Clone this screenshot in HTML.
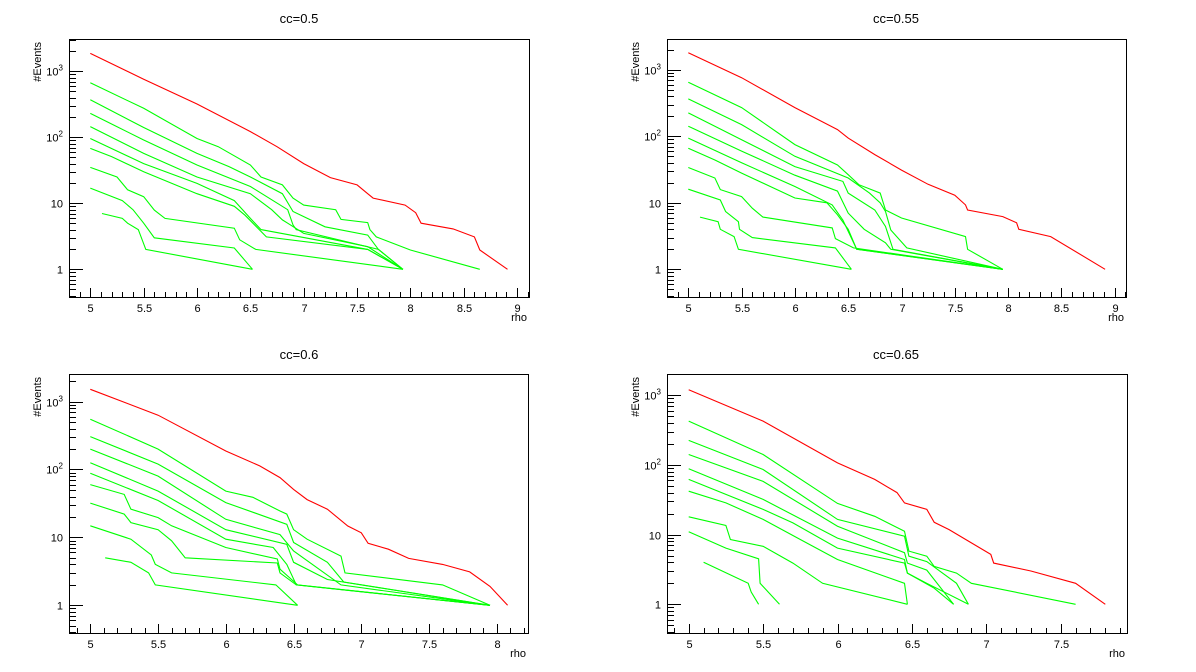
<!DOCTYPE html>
<html><head><meta charset="utf-8"><style>
html,body{margin:0;padding:0;background:#fff;}
svg{display:block;font-family:"Liberation Sans",Arial,sans-serif;}
</style></head><body>
<svg id="cv" width="1196" height="672" viewBox="0 0 1196 672"></svg>
<script>
// ---- data (rho, #events) ----
const p1RedX=[5,5.5,6,6.5,6.75,7,7.25,7.5,7.6,7.65,7.95,8.05,8.1,8.4,8.6,8.65,8.91];
const p1RedY=[1870,760,320,122,72,40,24.5,19,14,12,9.4,7.2,5,4.1,3.1,1.96,1];
const p1GreenX=[
[5,5.5,6,6.2,6.5,6.6,6.8,6.9,7.0,7.3,7.35,7.6,7.62,7.68,8,8.65],
[5,5.5,6,6.3,6.5,6.8,6.9,7.2,7.6,7.7,7.93],
[5,5.5,6,6.5,6.85,6.9,6.93,7.7,7.93],
[5,5.5,6,6.5,6.7,6.8,6.85,7.0,7.6,7.93],
[5,5.5,6,6.35,6.5,6.6,7.6,7.93],
[5,5.2,5.5,6,6.35,6.45,6.65,7.6,7.93],
[5,5.25,5.35,5.5,5.6,5.7,6.35,6.4,6.55,7.93],
[5,5.3,5.4,5.5,5.6,6.35,6.52],
[5.11,5.3,5.35,5.45,5.52,6.52]];
const p1GreenY=[
[670,275,96,72,38,25,19,12,9.4,8,5.7,5.1,4,3.1,1.96,1],
[370,141,57,36,25,14,7.5,4.4,3.3,2,1],
[230,91,38,18,8,4.7,4,2,1],
[145,57,25,14,8,5.6,5,3.5,2.2,1],
[96,40,20,11,5.9,4,2.0,1],
[68,51,30,14,9,6.6,3.1,2,1],
[35,25,16,12.6,7.9,5.9,4.2,2.8,2,1],
[17,11,8,5,3,2.1,1],
[7,5.9,5,4,2,1]];

const p2RedX=[5,5.5,6,6.4,6.5,6.75,7,7.25,7.5,7.6,7.62,7.95,8.08,8.1,8.4,8.91];
const p2RedY=[1800,760,270,126,94,53,31,19,13,9.3,7.8,6.2,5,4,3.1,1];
const p2GreenX=[
[5,5.5,6,6.4,6.5,6.6,6.8,6.85,7.0,7.6,7.62,7.95],
[5,5.5,6,6.5,6.7,6.8,6.85,6.9,7.05,7.95],
[5,5.5,6,6.45,6.5,6.75,6.85,6.92,7.95],
[5,5.5,6,6.4,6.5,6.65,6.85,6.9,7.95],
[5,5.5,6,6.35,6.45,6.58,7.95],
[5,5.25,5.5,6,6.3,6.4,6.5,6.58,7.95],
[5,5.25,5.3,5.5,5.6,5.7,6.35,6.38,6.55,7.95],
[5,5.3,5.35,5.47,5.48,5.6,6.38,6.53],
[5.11,5.28,5.3,5.43,5.47,6.53]];
const p2GreenY=[
[650,270,75,37,26.5,18.7,14,7.8,5.9,3.1,2,1],
[365,150,50,23.6,14,10,7.4,3.9,2.1,1],
[225,89,35,21,14,7.8,4.4,2,1],
[142,60,26,15,7,4,2.5,2,1],
[94,40,17.6,9.3,5.5,2,1],
[66,44,28,11.8,10,6.6,4,2,1],
[34,23.6,15.8,12.4,8.3,6.1,4.2,2.9,2.1,1],
[16,11,7.4,5.2,4,3,2.1,1],
[6.1,5.2,4,3.1,2,1]];

const p3RedX=[5,5.5,6,6.25,6.4,6.5,6.6,6.75,6.9,7.0,7.05,7.2,7.35,7.6,7.8,7.95,8.08];
const p3RedY=[1520,630,187,113,76,51,36,26,14.7,11.7,8.2,6.7,4.9,4,3.1,1.9,1];
const p3GreenX=[
[5,5.5,6,6.2,6.4,6.45,6.5,6.6,6.85,6.88,7.6,7.95],
[5,5.5,6,6.45,6.5,6.75,6.87,7.95],
[5,5.5,6,6.4,6.5,6.85,7.95],
[5,5.5,6,6.45,6.5,6.75,7.95],
[5,5.5,6,6.35,6.45,6.52,7.95],
[5,5.25,5.3,5.5,5.6,6,6.38,6.4,6.53,7.95],
[5,5.25,5.3,5.5,5.6,5.7,6.38,6.4,6.52,7.95],
[5,5.3,5.45,5.48,5.6,6.37,6.53],
[5.11,5.3,5.43,5.48,6.53]];
const p3GreenY=[
[550,200,48,39,24.5,22,13,9.4,5.3,3,2,1],
[305,120,32.6,15.6,8.4,4.3,2.2,1],
[200,80,18.5,11,6.3,2,1],
[126,48,13,7.9,4.3,2.4,1],
[88,35,9.4,7.1,4,2,1],
[60,43,26,19.6,14.8,7.1,4.8,3.4,2,1],
[32,22,16.5,13,8.9,5,4.2,3,2,1],
[14.8,9.4,5.5,4,3,2,1],
[5,4.3,3,2,1]];

const p4RedX=[5,5.5,6,6.25,6.4,6.45,6.6,6.65,6.75,6.9,7.03,7.05,7.3,7.6,7.8];
const p4RedY=[1200,425,107,62,40,28.5,23,15,11.8,7.6,5.2,3.9,3,2,1];
const p4GreenX=[
[5,5.5,6,6.25,6.45,6.48,6.6,6.65,6.8,6.9,7.6],
[5,5.5,6,6.45,6.48,6.6,6.8,6.88],
[5,5.5,6,6.45,6.47,6.6,6.78],
[5,5.5,6,6.45,6.47,6.65,6.78],
[5,5.5,5.7,6,6.45,6.47,6.6,6.88],
[5,5.25,5.5,5.75,6,6.45,6.47],
[5,5.25,5.28,5.5,5.7,5.9,6.47],
[5,5.25,5.47,5.48,5.61],
[5.1,5.4,5.42,5.47]];
const p4GreenY=[
[425,141,28,18.3,11.2,5.8,4.9,3.5,2.8,2,1],
[225,86,16.5,9.5,4.9,4.1,2,1],
[141,58,13.2,5.5,3.9,3.1,1],
[88,32,8.9,4.4,2.8,1.7,1],
[62,23,14.7,6.4,3.9,2.8,2,1],
[42,28.5,16.5,8.5,4.4,2,1],
[18,13.5,8.5,6.8,3.9,2,1],
[11,6.4,4.5,2,1],
[4,2,1.5,1]];

const titles=["cc=0.5","cc=0.55","cc=0.6","cc=0.65"];

// ---- layout ----
const pads=[
 {fx0:69,fy0:39,fx1:529,fy1:297,x5:90.3,sx:106.7,y1:269.3,dec:66,cx:299,ty:18,rx:p1RedX,ry:p1RedY,gx:p1GreenX,gy:p1GreenY},
 {fx0:667,fy0:39,fx1:1126,fy1:297,x5:688.3,sx:106.6,y1:269.3,dec:66.5,cx:896,ty:18,rx:p2RedX,ry:p2RedY,gx:p2GreenX,gy:p2GreenY},
 {fx0:69,fy0:374,fx1:528,fy1:633,x5:90.3,sx:135.5,y1:605.3,dec:67.9,cx:299,ty:354,rx:p3RedX,ry:p3RedY,gx:p3GreenX,gy:p3GreenY},
 {fx0:667,fy0:374,fx1:1127,fy1:633,x5:688.7,sx:148.8,y1:604.3,dec:69.7,cx:896,ty:354,rx:p4RedX,ry:p4RedY,gx:p4GreenX,gy:p4GreenY}];

const NS="http://www.w3.org/2000/svg";
const cv=document.getElementById('cv');
function mk(tag,attrs,parent,text){const e=document.createElementNS(NS,tag);for(const k in attrs)e.setAttribute(k,attrs[k]);if(text!==undefined)e.textContent=text;parent.appendChild(e);return e;}

pads.forEach((p,i)=>{
 const X=v=>p.x5+(v-5)*p.sx;
 const Y=v=>p.y1-Math.log10(v)*p.dec;
 const g=mk('g',{},cv);
 
 
 const t=mk('text',{x:p.cx,y:p.ty+5,'text-anchor':'middle','font-size':13},g,titles[i]);
 
 
 const fr=mk('rect',{x:p.fx0+.5,y:p.fy0+.5,width:p.fx1-p.fx0,height:p.fy1-p.fy0,fill:'none',stroke:'#000','stroke-width':1},g);
 
 
 // x ticks
 const xmin=5+(p.fx0-p.x5)/p.sx, xmax=5+(p.fx1-p.x5)/p.sx;
 let d='';
 for(let k=Math.ceil(xmin*10);k<=Math.floor(xmax*10);k++){
  const v=k/10, px=Math.round(X(v))+.5, major=(k%5===0);
  d+=`M${px},${p.fy1}v${major?-9:-5}`;
  if(major){const lb=mk('text',{x:px,y:p.fy1+15,'text-anchor':'middle','font-size':11},g,String(v));
   
   }
 }
 // y ticks
 for(let e=-1;e<=3;e++){for(let m=1;m<=9;m++){const v=m*Math.pow(10,e),py=Y(v);
  if(py<p.fy0||py>p.fy1)continue;const pyr=Math.round(py)+.5;
  d+=`M${p.fx0},${pyr}h${m===1?14:7}`;
  if(m===1&&e>=0){
   const lb=mk('text',{x:p.fx0-6,y:pyr+4,'text-anchor':'end','font-size':11},g);
   
   
   if(e<=1)lb.textContent=String(v);
   else{lb.textContent='10';const s=mk('tspan',{'font-size':8,dy:-5},lb,String(e));}
  }}}
 const ax=mk('path',{d:d,stroke:'#000','stroke-width':1,fill:'none'},g);
 
 
 const yt=mk('text',{transform:`translate(${p.fx0-28},${p.fy0+3}) rotate(-90)`,'text-anchor':'end','font-size':11},g,'#Events');
 
 
 const xt=mk('text',{x:p.fx1-2,y:p.fy1+24,'text-anchor':'end','font-size':11},g,'rho');
 
 
 // series
 p.gx.forEach((xs,j)=>{
  const pts=xs.map((v,k)=>X(v).toFixed(1)+','+Y(p.gy[j][k]).toFixed(1)).join(' ');
  const l=mk('polyline',{points:pts,fill:'none',stroke:'#00ff00','stroke-width':1.1},g);
  
  
 });
 const rp=p.rx.map((v,k)=>X(v).toFixed(1)+','+Y(p.ry[k]).toFixed(1)).join(' ');
 const r=mk('polyline',{points:rp,fill:'none',stroke:'#ff0000','stroke-width':1.1},g);
 
 
});
</script>
</body></html>
